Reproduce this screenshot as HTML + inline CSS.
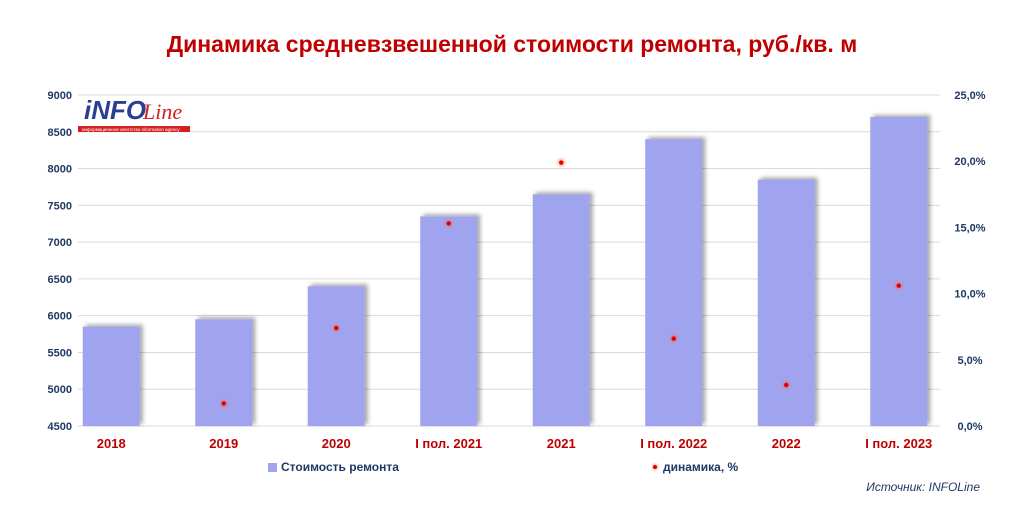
<!DOCTYPE html>
<html><head><meta charset="utf-8"><style>
body{margin:0;background:#fff;width:1024px;height:512px;overflow:hidden;font-family:"Liberation Sans",sans-serif}
</style></head><body>
<svg width="1024" height="512" xmlns="http://www.w3.org/2000/svg">
<defs>
<filter id="sh" x="-20%" y="-20%" width="150%" height="150%"><feDropShadow dx="3" dy="-2" stdDeviation="2" flood-color="#000" flood-opacity="0.35"/></filter>
<radialGradient id="glow"><stop offset="0" stop-color="#ff3020" stop-opacity="0.6"/><stop offset="1" stop-color="#ff8060" stop-opacity="0"/></radialGradient>
</defs>
<text x="512" y="52" text-anchor="middle" font-size="23" font-weight="bold" fill="#c00000">Динамика средневзвешенной стоимости ремонта, руб./кв. м</text>
<g id="grid"></g><g id="bars"></g><g id="dots"></g><g id="labels"></g>
<g>
<text x="84" y="119" font-size="26" font-weight="bold" fill="#2a3f8f" font-style="italic">iNFO</text>
<text x="143" y="119" font-size="22" font-style="italic" fill="#d42020" font-family="Liberation Serif,serif">Line</text>
<rect x="78" y="126" width="112" height="6" fill="#d42020"/>
<text x="82" y="131" font-size="4.5" fill="#fff">информационное агентство  information agency</text>
</g>
<g>
<rect x="268" y="463" width="9" height="9" fill="#a0a4ee"/>
<text x="281" y="471" font-size="12" font-weight="bold" fill="#1f3864">Стоимость ремонта</text>
<circle cx="655" cy="467" r="5" fill="url(#glow)"/><circle cx="655" cy="467" r="2" fill="#e00000"/>
<text x="663" y="471" font-size="12" font-weight="bold" fill="#1f3864">динамика, %</text>
</g>
<text x="980" y="491" text-anchor="end" font-size="12" font-style="italic" fill="#1f3864">Источник: INFOLine</text>
</svg>
<script>
const categories=["2018","2019","2020","I пол. 2021","2021","I пол. 2022","2022","I пол. 2023"];
const costValues=[5850,5950,6400,7350,7650,8400,7850,8700];
const dynamicsValues=[null,1.7,7.4,15.3,19.9,6.6,3.1,10.6];
const leftTicks=[4500,5000,5500,6000,6500,7000,7500,8000,8500,9000];
const rightTicks=[0,5,10,15,20,25];
const NS="http://www.w3.org/2000/svg";
const plotTop=95,plotBot=426,x0=55,x1=955;
const yL=v=>plotBot-(v-4500)/4500*(plotBot-plotTop);
const yR=v=>plotBot-v/25*(plotBot-plotTop);
const xC=i=>x0+(x1-x0)/categories.length*(i+0.5);
function mk(t,a,p){const e=document.createElementNS(NS,t);for(const k in a)e.setAttribute(k,a[k]);p.appendChild(e);return e;}
const g=document.getElementById('grid'),b=document.getElementById('bars'),d=document.getElementById('dots'),l=document.getElementById('labels');
leftTicks.forEach(v=>{const ln=mk('line',{x1:78,x2:940,y1:yL(v),y2:yL(v),stroke:'#d9d9d9','stroke-width':1},g);


const t=mk('text',{x:72,y:yL(v)+4,'text-anchor':'end','font-size':11,'font-weight':'bold',fill:'#1f3864'},l);t.textContent=v;

});
rightTicks.forEach(v=>{const t=mk('text',{x:970,y:yR(v)+4,'text-anchor':'middle','font-size':11,'font-weight':'bold',fill:'#1f3864'},l);t.textContent=v.toFixed(1).replace('.',',')+'%';

});
categories.forEach((c,i)=>{const x=xC(i);
const r=mk('rect',{x:x-28.5,y:yL(costValues[i]),width:57,height:plotBot-yL(costValues[i]),fill:'#a0a4ee',filter:'url(#sh)'},b);


const t=mk('text',{x:x,y:448,'text-anchor':'middle','font-size':13,'font-weight':'bold',fill:'#c00000'},l);t.textContent=c;


if(dynamicsValues[i]!=null){const y=yR(dynamicsValues[i]);
mk('circle',{cx:x,cy:y,r:6,fill:'url(#glow)'},d);
const p=mk('circle',{cx:x,cy:y,r:2.2,fill:'#e00000'},d);

}});
</script>
</body></html>
